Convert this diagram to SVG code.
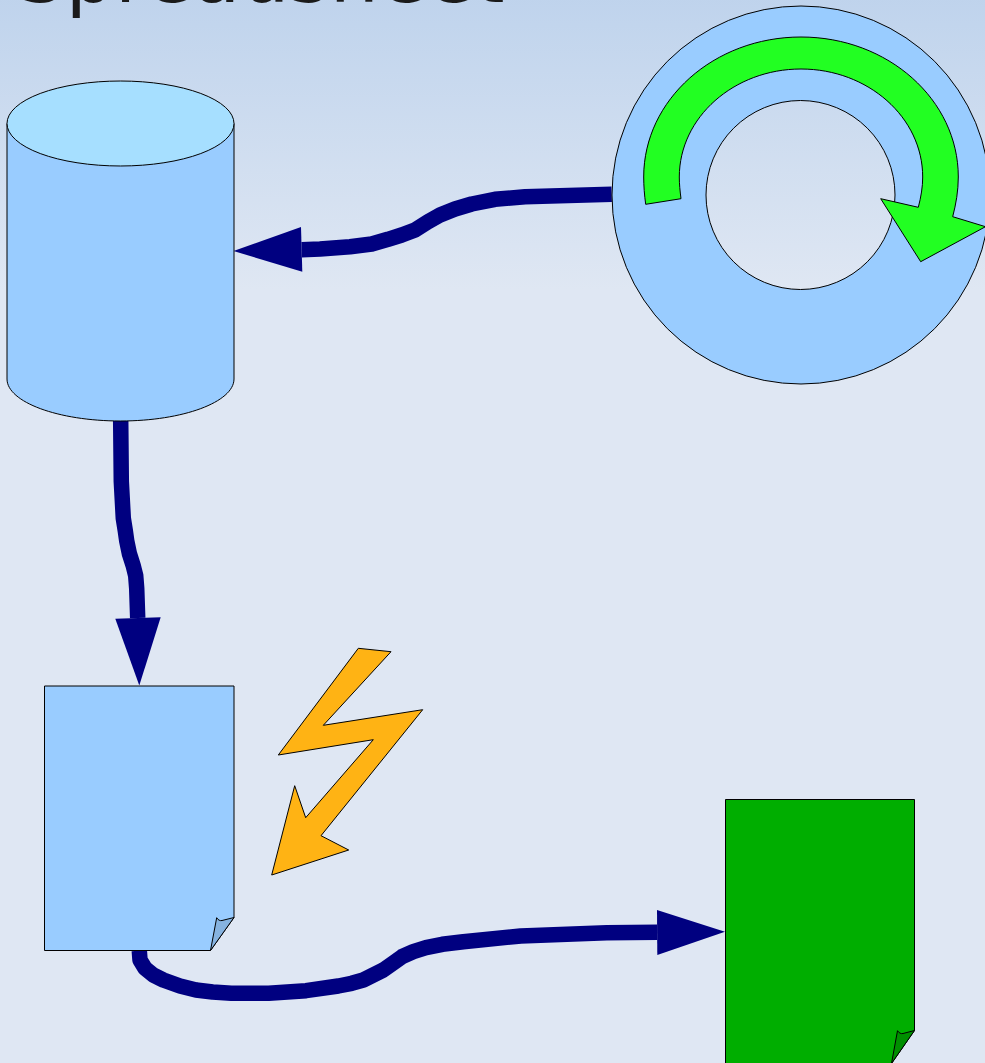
<svg xmlns="http://www.w3.org/2000/svg" width="985" height="1063" viewBox="0 0 985 1063">
<style>
.o{stroke:#000;stroke-width:1;stroke-linejoin:round}
.b{fill:#99ccff}
.c{fill:none;stroke:#000080;stroke-width:15.500;stroke-linejoin:round}
.h{fill:#000080}
</style>
<defs>
<linearGradient id="bg" x1="0" y1="-20" x2="0" y2="290" gradientUnits="userSpaceOnUse"><stop offset="0" stop-color="#bdd2ec"/><stop offset="1" stop-color="#dfe7f3"/></linearGradient>
</defs>
<rect width="985" height="1063" fill="#dfe7f3"/>
<rect width="985" height="291" fill="url(#bg)"/>
<text id="title" x="16.500" y="1.500" font-family="'DejaVu Sans',sans-serif" font-size="77.500" fill="#1a1a1a">Spreadsheet</text>
<g id="connectors">
<polyline class="c" points="611.700,194.300 525,196.700 495,199.300 471.700,204 455,209 440,215 428,221.700 415,230 401.700,235 388,239.300 371.700,244 350,246.700 320,249 301.700,249.700"/>
<path class="h" d="M233.500 251L301 227L302.300 271.700Z"/>
<polyline class="c" points="120.700,421 121.300,481.300 123.300,518.300 125.300,530.700 126.700,540.700 129.300,553.300 133.300,566 135.700,575.700 136.700,588.300 137.700,618"/>
<path class="h" d="M139.300 685.500L115.300 618.700L160.700 617.300Z"/>
<polyline class="c" points="139.300,950.700 140,960 145,968.300 153.300,975 163.300,980 180,986 196,990 212.700,992 231.300,993.300 268.700,993.300 306,990.700 338.300,986 351.700,983.300 363.300,980 373.300,975 383.300,970 395,961.700 402,956.700 413.300,951.700 426,947.700 442.300,944.300 463.300,941.700 520.700,936 606.700,932.700 657.300,932.300"/>
<path class="h" d="M725 931.700L657 910L657.300 955Z"/>
</g>
<g id="cylinder">
<path class="o b" d="M7 123.500V379C7 402 58 421 120.500 421S234 402 234 379V123.500Z"/>
<ellipse class="o" cx="120.500" cy="123.500" rx="113.500" ry="42.500" fill="#a6dfff"/>
</g>
<g id="ring">
<path class="o b" fill-rule="evenodd" d="M612 195a189 189 0 1 1 378 0a189 189 0 1 1-378 0ZM706 195a94.500 94.500 0 1 0 189 0a94.500 94.500 0 1 0-189 0Z"/>
</g>
<g id="cycle-arrow">
<path class="o" fill="#22ff22" d="M645.700 204.300C644.400 195 643.700 186 643.700 177C643.700 99.700 714 37 801 37C888 37 958.300 99.700 958.300 177C958.300 191 956 204 952.700 216.700L985.500 226.700L920.700 261.700L880.700 198.700L918.300 207.300C921 197 922.700 187 922.700 177C922.700 117.400 868 69 801 69C734 69 679.300 117.400 679.300 177C679.300 184 680 191 681 198.700Z"/>
</g>
<g id="document">
<path class="o b" d="M44.500 686H234V917.500L210.500 950.500H44.500Z"/>
<path class="o" fill="#86b3e0" d="M210.500 950.500L216.700 917.700C218 920 220 921 222 920.500L234 917.500Z"/>
</g>
<g id="bolt">
<path class="o" fill="#ffb314" d="M358.300 648.300L391 651.700L323.300 725.300L422.700 709.700L321 835.700L348.700 850L271.700 875L294.700 785.700L305.700 817.700L373.300 739.700L278.300 755Z"/>
</g>
<g id="output-document">
<path class="o" fill="#00ae00" d="M725.500 799.500H914.500V1030.500L891.500 1063.500H725.500Z"/>
<path class="o" fill="#008f00" d="M891.500 1063.500L897.500 1030.700C899 1033 901 1034 903 1033.500L914.500 1030.500Z"/>
</g>
</svg>
